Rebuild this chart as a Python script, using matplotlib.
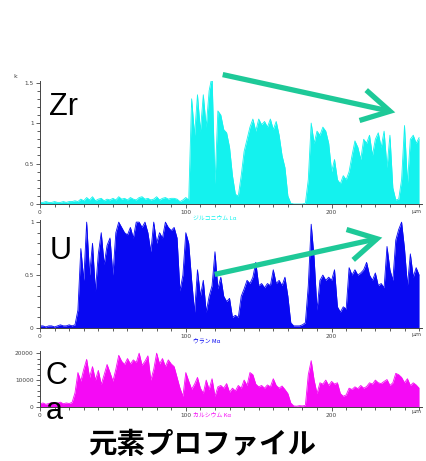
import matplotlib
matplotlib.use("Agg")
import matplotlib.pyplot as plt
from matplotlib.patches import FancyArrowPatch
from matplotlib.ticker import MultipleLocator
import numpy as np

# profiles sampled every 2 um along the line scan
step_um = 2.0

zr = [0.02, 0.02, 0.03, 0.02, 0.02, 0.03, 0.02, 0.02, 0.03, 0.02, 0.03, 0.03, 0.04,
      0.03, 0.06, 0.04, 0.08, 0.05, 0.09, 0.04, 0.06, 0.07, 0.04, 0.06, 0.05, 0.07,
      0.05, 0.09, 0.06, 0.07, 0.05, 0.08, 0.06, 0.05, 0.08, 0.09, 0.06, 0.07, 0.05,
      0.06, 0.09, 0.05, 0.07, 0.08, 0.06, 0.07, 0.07, 0.06, 0.03, 0.05, 0.08,
      0.05, 1.30, 0.85, 1.35, 0.90, 1.35, 0.95, 1.40, 1.58, 0.25, 1.15, 1.10, 0.92,
      0.88, 0.70, 0.35, 0.12, 0.10, 0.35, 0.65, 0.80, 0.95, 1.05, 0.90, 1.05, 0.98,
      1.02, 0.95, 1.05, 0.92, 1.02, 0.85, 0.60, 0.45, 0.10, 0.01, 0.0, 0.0, 0.0,
      0.0, 0.01, 0.30, 1.00, 0.75, 0.90, 0.85, 0.95, 0.90, 0.75, 0.40, 0.55, 0.30,
      0.25, 0.35, 0.30, 0.40, 0.60, 0.78, 0.70, 0.55, 0.80, 0.75, 0.85, 0.60, 0.80,
      0.88, 0.70, 0.90, 0.45, 0.85, 0.20, 0.05, 0.06, 0.30, 0.97, 0.25, 0.80, 0.85,
      0.75, 0.82]

u = [0.02, 0.02, 0.01, 0.02, 0.02, 0.01, 0.02, 0.03, 0.02, 0.02, 0.03, 0.02, 0.03,
     0.17, 0.75, 0.45, 1.0, 0.50, 0.80, 0.35, 0.70, 0.90, 0.60, 0.78, 0.85, 0.50,
     0.90, 1.0, 0.95, 0.90, 0.88, 0.95, 0.85, 1.0, 1.0, 0.95, 1.0, 0.90, 0.72,
     1.0, 0.80, 0.90, 0.85, 1.0, 0.95, 0.92, 0.95, 0.85, 0.35, 0.50, 0.90, 0.80,
     0.45, 0.15, 0.55, 0.30, 0.45, 0.15, 0.30, 0.40, 0.72, 0.37, 0.48, 0.30, 0.25,
     0.28, 0.10, 0.12, 0.10, 0.30, 0.37, 0.45, 0.42, 0.48, 0.62, 0.40, 0.42, 0.38,
     0.42, 0.40, 0.55, 0.42, 0.45, 0.40, 0.48, 0.30, 0.05, 0.02, 0.02, 0.02, 0.03,
     0.05, 0.40, 0.98, 0.66, 0.17, 0.45, 0.50, 0.45, 0.48, 0.45, 0.55, 0.20, 0.15,
     0.20, 0.18, 0.57, 0.50, 0.55, 0.50, 0.52, 0.55, 0.62, 0.50, 0.45, 0.52, 0.40,
     0.42, 0.38, 0.77, 0.55, 0.45, 0.83, 0.93, 1.0, 0.75, 0.40, 0.70, 0.48, 0.57,
     0.50]

ca = [1200, 1500, 1000, 1300, 1600, 1100, 1400, 1800, 1200, 1500, 1300, 1700,
      5300, 12800, 9600, 14000, 17700, 11000, 15000, 10000, 13600, 8400, 12000,
      15800, 12800, 9600, 14000, 19200, 17000, 15800, 18000, 16000, 17500, 16500,
      20000, 15500, 17000, 19000, 10000, 14000, 20000, 16000, 18000, 15000, 17500,
      16000, 15000, 11000, 7000, 4000, 12800, 9600, 6600, 8500, 11000, 7000, 5100,
      10000, 6500, 10500, 4000, 7500, 8000, 7000, 8700, 5500, 7000, 6000, 8000,
      7000, 10000, 8000, 12800, 12000, 8500, 7500, 8000, 7000, 8200, 7500, 10500,
      8000, 7000, 7800, 6500, 5000, 1500, 400, 300, 500, 400, 600, 12000, 17200,
      10000, 5000, 9000, 8500, 10000, 8000, 9500, 8500, 9000, 5000, 4000, 4500,
      7000, 6500, 7500, 6800, 8000, 7000, 7600, 9000, 8500, 10000, 9000, 8700,
      9500, 10200, 8000, 9000, 12500, 12000, 11000, 9000, 10500, 8000, 9000, 8200,
      7000]

elements = ["Zr", "U", "C\na"]
channels = ["ジルコニウム Lα", "ウラン Mα", "カルシウム Kα"]
colors = ["#14f2ee", "#0808f2", "#f50af5"]
series = [zr, u, ca]
yticks = [[0, 0.5, 1, 1.5], [0, 0.5, 1], [0, 10000, 20000]]
yticklabels = [["0", "0.5", "1", "1.5"], ["0", "0.5", "1"], ["0", "10000", "20000"]]
ylims = [1.52, 1.02, 20800]
yminor = [0.1, 0.1, 2000]

W, H = 427, 461
fig = plt.figure(figsize=(W / 100, H / 100), dpi=100)

# axes boxes in pixels: left, bottom(y of zero line), top
boxes = [(40, 204, 81), (40, 328, 220), (40, 407, 351)]
# element label anchors in pixels (left x, top y)
label_pos = [(49, 92), (50, 236), (46, 361)]
xmax = 262

for i, (left, bot, top) in enumerate(boxes):
    ax = fig.add_axes([left / W, (H - bot) / H, 382 / W, (bot - top) / H])
    vals = np.array(series[i], dtype=float)
    x = np.arange(len(vals)) * step_um
    ax.fill_between(x, 0, vals, color=colors[i], lw=0)
    ax.plot(x, vals, color=colors[i], lw=0.6)
    ax.set_xlim(0, xmax)
    ax.set_ylim(0, ylims[i])
    for s in ["top", "right"]:
        ax.spines[s].set_visible(False)
    for s in ["left", "bottom"]:
        ax.spines[s].set_color("#444444")
        ax.spines[s].set_linewidth(0.7)
    ax.set_xticks([0, 100, 200])
    ax.set_xticklabels(["0", "100", "200"])
    ax.xaxis.set_minor_locator(MultipleLocator(10))
    ax.set_yticks(yticks[i])
    ax.set_yticklabels(yticklabels[i])
    ax.yaxis.set_minor_locator(MultipleLocator(yminor[i]))
    ax.tick_params(which="both", labelsize=4.2, colors="#444444", width=0.6, pad=1.5)
    ax.tick_params(which="major", length=3)
    ax.tick_params(which="minor", length=2)
    ax.text(255, -0.04 * ylims[i], "μm", fontsize=4.5, color="#444444",
            ha="left", va="top", clip_on=False)
    ax.text(105, -0.09 * ylims[i], channels[i], fontsize=4.2,
            color=colors[i], ha="left", va="top",
            family=["Noto Sans CJK JP", "DejaVu Sans"])
    lx, ly = label_pos[i]
    fig.text(lx / W, 1 - ly / H, elements[i], fontsize=22, family="Liberation Sans",
             color="black", ha="left", va="top", linespacing=1.2)

fig.text(13 / W, 1 - 76 / H, "k", fontsize=4.5, color="#444444", ha="left", va="center")

fig.text(202 / W, 1 - 445 / H, "元素プロファイル", fontsize=20.5, fontweight="bold",
         family=["Noto Sans CJK JP", "DejaVu Sans"], ha="center", va="center")

# green trend arrows (figure pixel coordinates)
arrow_green = "#1ec998"
for (x0, y0), (x1, y1) in [((220, 74), (398, 113)), ((212, 275), (385, 237))]:
    arr = FancyArrowPatch((x0 / W, 1 - y0 / H), (x1 / W, 1 - y1 / H),
                          transform=fig.transFigure, arrowstyle="->,head_length=5,head_width=2.8",
                          mutation_scale=4, lw=3.8, color=arrow_green,
                          capstyle="butt", joinstyle="miter")
    fig.add_artist(arr)

fig.savefig("out.png", dpi=100)
